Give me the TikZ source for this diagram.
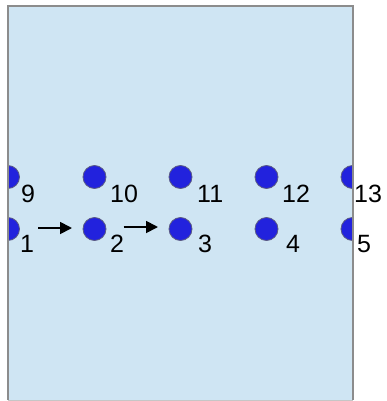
\documentclass[tikz,border=0pt]{standalone}
\usepackage{fontspec}
\setmainfont{Liberation Sans}
\usetikzlibrary{arrows.meta}
\definecolor{panel}{RGB}{207,229,243}
\definecolor{panelborder}{RGB}{140,140,140}
\definecolor{dotblue}{RGB}{34,34,221}
\definecolor{dotborder}{RGB}{90,90,130}
\tikzset{
  pt/.style={circle,fill=dotblue,draw=dotborder,line width=0.8pt,minimum size=23pt,inner sep=0pt},
  lbl/.style={anchor=base west,inner sep=0pt,font=\fontsize{25}{25}\selectfont,text=black},
  flow/.style={-{Triangle[length=12pt,width=12pt]},line width=1.8pt,black}
}
\begin{document}
\begin{tikzpicture}[x=1pt,y=-1pt]
\useasboundingbox (0,0) rectangle (387,401);
\fill[panel] (8,6) rectangle (353,400);
\begin{scope}
\clip (8,6) rectangle (353,400);
\foreach \i/\x in {1/8,2/94.5,3/180.5,4/266.5,5/352.5}{
  \node[pt] (d\i) at (\x,229) {};
}
\foreach \i/\x in {9/8,10/94.5,11/180.5,12/266.5,13/352.5}{
  \node[pt] (d\i) at (\x,177) {};
}
\end{scope}
\draw[panelborder,line width=1.5pt] (8,400) -- (8,6) -- (353,6) -- (353,400);
\draw[panelborder!50,line width=1pt] (8,400) -- (353,400);
% labels
\node[lbl] (l9) at (21,202) {9};
\node[lbl] (l10) at (110,202) {10};
\node[lbl] (l11) at (197,202) {11};
\node[lbl] (l12) at (282,202) {12};
\node[lbl] (l13) at (354,202) {13};
\node[lbl] (l1) at (20,252) {1};
\node[lbl] (l2) at (110,252) {2};
\node[lbl] (l3) at (198,252) {3};
\node[lbl] (l4) at (286,252) {4};
\node[lbl] (l5) at (357,252) {5};
% arrows
\draw[flow] ([yshift=1pt,xshift=30pt]d1.center) -- ([yshift=1pt,xshift=-22.5pt]d2.center);
\draw[flow] ([yshift=2pt,xshift=29pt]d2.center) -- ([yshift=2pt,xshift=-22.5pt]d3.center);
\end{tikzpicture}
\end{document}
